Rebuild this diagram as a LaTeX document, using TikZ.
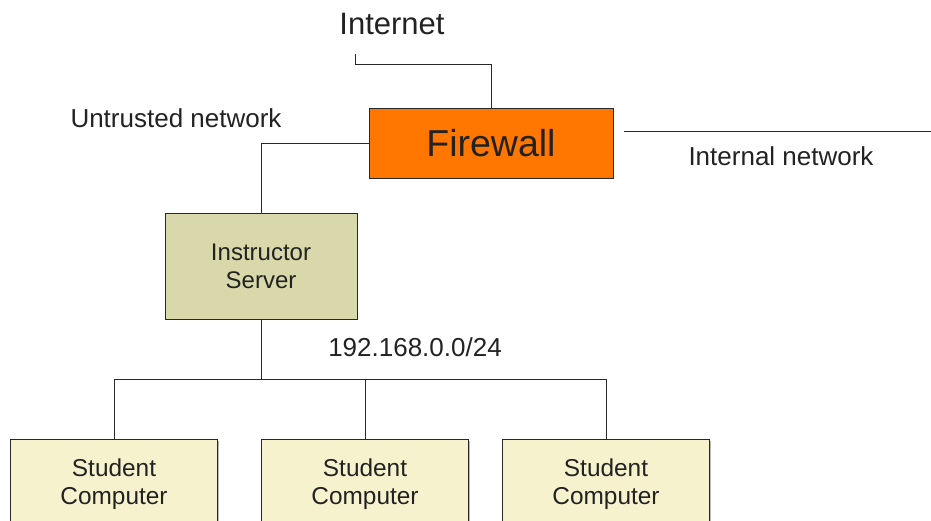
\documentclass[tikz,border=0pt]{standalone}
\usepackage{fontspec}
\setmainfont{Liberation Sans}
\usepackage{xcolor}
\usetikzlibrary{positioning, calc, shadows}
\definecolor{firewallorange}{RGB}{255,119,0}
\definecolor{serverolive}{RGB}{216,216,170}
\definecolor{studentcream}{RGB}{247,242,206}
\definecolor{textgray}{RGB}{34,34,34}
\definecolor{linegray}{RGB}{40,40,40}

\tikzset{
    netbox/.style={draw=linegray, line width=0.9pt, align=center, text=textgray,
        drop shadow={shadow xshift=1.2pt, shadow yshift=-1.2pt, fill=black!45, opacity=0.6}},
    netlabel/.style={text=textgray, font=\fontsize{26}{31}\selectfont},
    netline/.style={draw=linegray, line width=0.9pt}
}

\begin{document}
\begin{tikzpicture}[x=1pt, y=-1pt]
    \useasboundingbox (0,0) rectangle (931,520);

    % Firewall and outside world
    \node[netbox, fill=firewallorange, minimum width=244pt, minimum height=70pt,
          font=\fontsize{37.5}{45}\selectfont] (fw) at (491,143) {Firewall};
    \node[text=textgray, font=\fontsize{31}{37}\selectfont] (inettxt) at (392,24) {Internet};
    \node[netlabel] (untrusted) at (176,118) {Untrusted network};
    \node[netlabel] (internal) at (781,156) {Internal network};
    \coordinate (inet) at (355,54);
    \coordinate (intA) at (624,131);
    \coordinate (intB) at (931,131);

    % Instructor server
    \node[netbox, fill=serverolive, minimum width=192pt, minimum height=106pt,
          font=\fontsize{24}{28}\selectfont] (srv) at (261,266) {Instructor\\Server};
    \node[netlabel] (subnet) at (415,347) {192.168.0.0/24};
    \coordinate (bus) at (261,379);

    % Student computers
    \foreach \name/\xpos in {stuA/114, stuB/365, stuC/606} {
        \node[netbox, fill=studentcream, minimum width=207pt, minimum height=90pt,
              anchor=north, font=\fontsize{24.4}{28}\selectfont] (\name) at (\xpos,439)
              {Student\\Computer};
    }

    % Connections
    \draw[netline] (inet) -- ++(0,10) -| (fw.north);
    \draw[netline] (fw.west) -| (srv.north);
    \draw[netline] (intA) -- (intB);
    \draw[netline] (srv.south) -- (bus);
    \draw[netline] (bus) -| (stuA.north);
    \draw[netline] (bus) -| (stuB.north);
    \draw[netline] (bus) -| (stuC.north);
\end{tikzpicture}
\end{document}
